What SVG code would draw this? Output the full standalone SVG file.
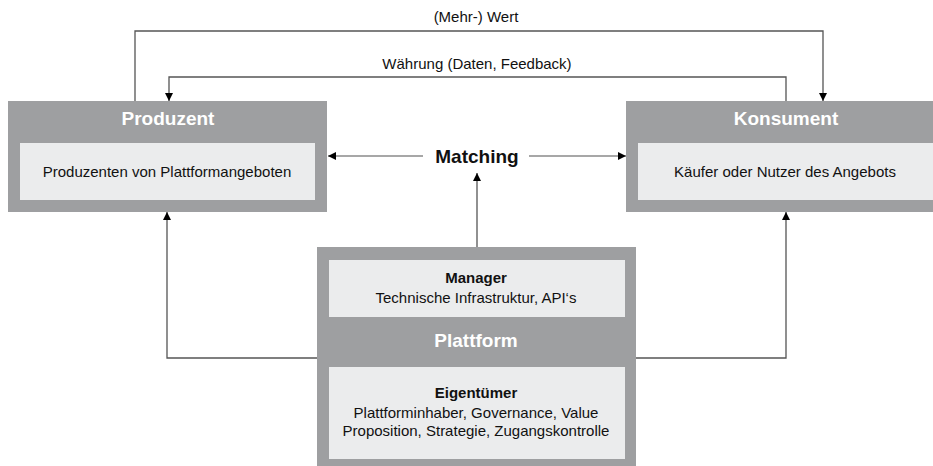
<svg xmlns="http://www.w3.org/2000/svg" width="933" height="466" viewBox="0 0 933 466">
<defs>
<marker id="ah" viewBox="0 0 10 10" refX="10" refY="5" markerWidth="8" markerHeight="8" markerUnits="userSpaceOnUse" orient="auto">
<path d="M0,0 L10,5 L0,10 z" fill="#000"/>
</marker>
</defs>
<style>
.outer{fill:#9e9fa1}
.inner{fill:#ebeced}
.title{font-family:"Liberation Sans",Arial,sans-serif;font-weight:bold;font-size:19px;fill:#fff;text-anchor:middle}
.t{font-family:"Liberation Sans",Arial,sans-serif;font-size:15px;fill:#111;text-anchor:middle}
.tb{font-family:"Liberation Sans",Arial,sans-serif;font-size:15px;font-weight:bold;fill:#111;text-anchor:middle}
.lbl{font-family:"Liberation Sans",Arial,sans-serif;font-size:15px;fill:#111;text-anchor:middle}
.c{fill:none;stroke:#555;stroke-width:1.3}
.cm{fill:none;stroke:#8a8a8a;stroke-width:1.3}
</style>
<rect width="933" height="466" fill="#fff"/>
<g id="connectors">
<path class="c" d="M135,101 V31 H823 V101" marker-end="url(#ah)"/>
<path class="c" d="M786,101 V77 H169 V101" marker-end="url(#ah)"/>
<path class="cm" d="M423,156 H328" marker-end="url(#ah)"/>
<path class="cm" d="M529,156 H626" marker-end="url(#ah)"/>
<path class="c" d="M477,247 V173" marker-end="url(#ah)"/>
<path class="c" d="M317,358 H167 V212" marker-end="url(#ah)"/>
<path class="c" d="M636,358 H786 V212" marker-end="url(#ah)"/>
</g>
<g id="labels">
<text class="lbl" x="476" y="22">(Mehr-) Wert</text>
<text class="lbl" x="477" y="69">Währung (Daten, Feedback)</text>
</g>
<g id="matching">
<text x="477" y="163" font-family="Liberation Sans, Arial, sans-serif" font-weight="bold" font-size="19" fill="#111" text-anchor="middle">Matching</text>
</g>
<g id="produzent">
<rect class="outer" x="8" y="101" width="319" height="111"/>
<rect class="inner" x="20" y="143" width="295" height="57"/>
<text class="title" x="168" y="125">Produzent</text>
<text class="t" x="167" y="177">Produzenten von Plattformangeboten</text>
</g>
<g id="konsument">
<rect class="outer" x="626" y="101" width="319" height="111"/>
<rect class="inner" x="638" y="143" width="295" height="57"/>
<text class="title" x="786" y="125">Konsument</text>
<text class="t" x="785" y="177">Käufer oder Nutzer des Angebots</text>
</g>
<g id="plattform">
<rect class="outer" x="317" y="247" width="319" height="225"/>
<rect class="inner" x="329" y="260" width="296" height="57"/>
<rect class="inner" x="329" y="367" width="296" height="92"/>
<text class="tb" x="476" y="283">Manager</text>
<text class="t" x="476" y="303">Technische Infrastruktur, API‘s</text>
<text class="title" x="476" y="347">Plattform</text>
<text class="tb" x="476" y="398">Eigentümer</text>
<text class="t" x="476" y="418">Plattforminhaber, Governance, Value</text>
<text class="t" x="476" y="436">Proposition, Strategie, Zugangskontrolle</text>
</g>
</svg>
